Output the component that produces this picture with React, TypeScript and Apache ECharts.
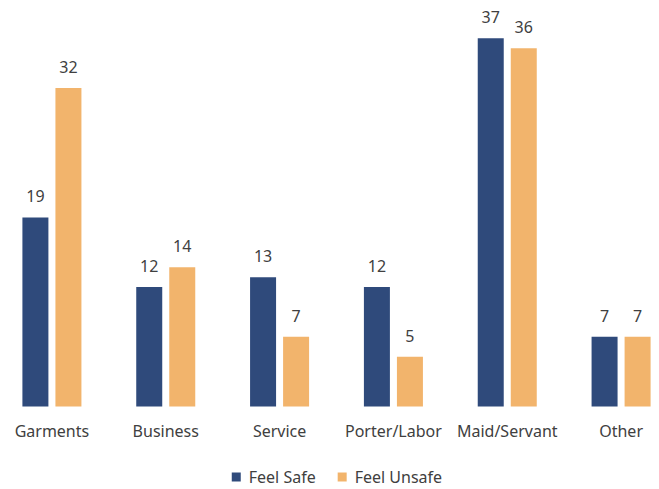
import React, { useEffect, useRef } from "react";
import * as echarts from "echarts";

const categories = ["Garments", "Business", "Service", "Porter/Labor", "Maid/Servant", "Other"];
const feelSafe = [19, 12, 13, 12, 37, 7];
const feelUnsafe = [32, 14, 7, 5, 36, 7];
const seriesNames = ["Feel Safe", "Feel Unsafe"];

const FONT = "Noto Sans";
const TEXT = "#404040";
const SHIFT = 4.75;
const INNER_W = 683.4;

export default function App() {
  const ref = useRef<HTMLDivElement>(null);
  useEffect(() => {
    if (!ref.current) return;
    const chart = echarts.init(ref.current, null, { renderer: "svg" });
    const label = {
      show: true,
      position: "top",
      distance: 13,
      color: TEXT,
      fontFamily: FONT,
      fontSize: 16,
    };
    chart.setOption({
      animation: false,
      backgroundColor: "#ffffff",
      grid: { left: 0, right: 0, top: 8.5, bottom: 82.5, containLabel: false },
      legend: {
        data: seriesNames,
        left: 227 + SHIFT,
        top: 464,
        itemWidth: 9,
        itemHeight: 9,
        itemGap: 22,
        icon: "rect",
        textStyle: { color: TEXT, fontFamily: FONT, fontSize: 16, padding: [0, 0, 0, 3] },
      },
      xAxis: {
        type: "category",
        data: categories,
        axisLine: { show: false },
        axisTick: { show: false },
        axisLabel: { color: TEXT, fontFamily: FONT, fontSize: 16, margin: 16, interval: 0 },
      },
      yAxis: {
        type: "value",
        min: 0,
        max: 40,
        show: false,
        splitLine: { show: false },
      },
      series: [
        {
          name: seriesNames[0],
          type: "bar",
          data: feelSafe,
          barWidth: 26,
          barGap: "27%",
          itemStyle: { color: "#2F4A7B" },
          label,
        },
        {
          name: seriesNames[1],
          type: "bar",
          data: feelUnsafe,
          barWidth: 26,
          barGap: "27%",
          itemStyle: { color: "#F2B46C" },
          label,
        },
      ],
    });
    return () => chart.dispose();
  }, []);
  return (
    <div
      style={{
        position: "absolute",
        left: 0,
        top: 0,
        width: 659,
        height: 489,
        overflow: "hidden",
        background: "#ffffff",
      }}
    >
      <div
        ref={ref}
        style={{ position: "absolute", left: -SHIFT, top: 0, width: INNER_W, height: 489 }}
      />
    </div>
  );
}
